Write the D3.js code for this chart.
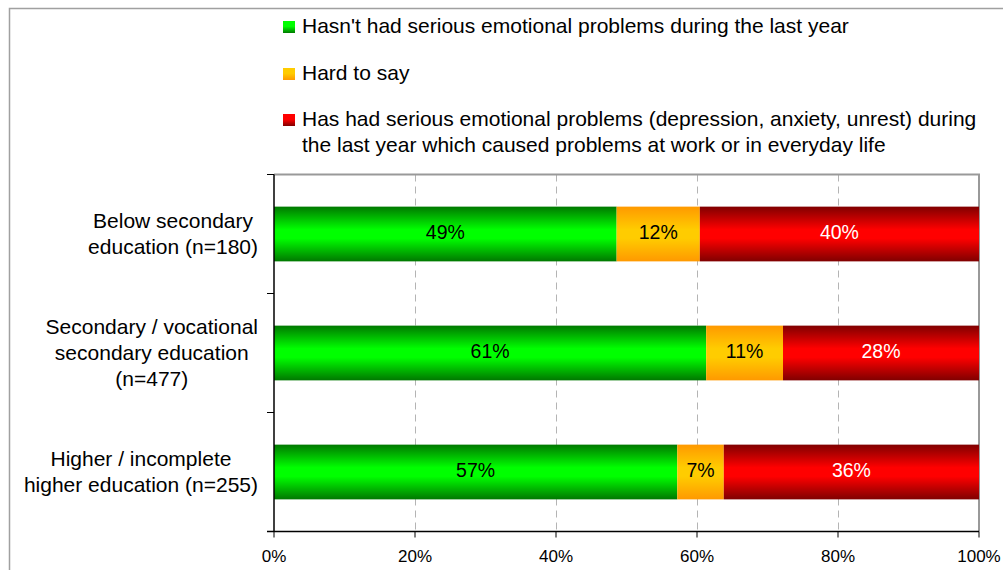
<!DOCTYPE html>
<html>
<head>
<meta charset="utf-8">
<script src="https://cdn.jsdelivr.net/npm/d3@7"></script>
<style>
  html, body { margin: 0; padding: 0; background: #fff; }
  svg { display: block; font-family: 'Liberation Sans', Arial, sans-serif; }
</style>
</head>
<body>
<svg id="chart" width="1003" height="570"></svg>
<script>
// ---- data ----
const categories = [
  ["Below secondary", "education (n=180)"],
  ["Secondary / vocational", "secondary education", "(n=477)"],
  ["Higher / incomplete", "higher education (n=255)"]
];
const seriesNames = [
  ["Hasn't had serious emotional problems during the last year"],
  ["Hard to say"],
  ["Has had serious emotional problems (depression, anxiety, unrest) during", "the last year which caused problems at work or in everyday life"]
];
const noProblems = [48.6, 61.3, 57.2];
const hardToSay  = [11.8, 10.9, 6.6];
const hadProblems = [39.6, 27.8, 36.2];
const xTicks = [0, 20, 40, 60, 80, 100];

// ---- styles ----
const colors = [
  { edge: "#007800", mid: "#00ff00", text: "#000" },
  { edge: "#ff9900", mid: "#ffcc00", text: "#000" },
  { edge: "#800000", mid: "#ff0000", text: "#fff" }
];

const svg = d3.select("#chart");
const plot = { left: 274, right: 979, top: 174.5, bottom: 531.5 };

const defs = svg.append("defs");
colors.forEach((c, i) => {
  const g = defs.append("linearGradient").attr("id", "bar" + i)
    .attr("x1", 0).attr("y1", 0).attr("x2", 0).attr("y2", 1);
  g.append("stop").attr("offset", "0%").attr("stop-color", c.edge);
  g.append("stop").attr("offset", "42%").attr("stop-color", c.mid);
  g.append("stop").attr("offset", "58%").attr("stop-color", c.mid);
  g.append("stop").attr("offset", "100%").attr("stop-color", c.edge);
  const l = defs.append("linearGradient").attr("id", "leg" + i)
    .attr("x1", 0).attr("y1", 0).attr("x2", 0).attr("y2", 1);
  l.append("stop").attr("offset", "0%").attr("stop-color", c.mid);
  l.append("stop").attr("offset", "45%").attr("stop-color", c.mid);
  l.append("stop").attr("offset", "100%").attr("stop-color", c.edge);
});

// outer chart frame
svg.append("rect").attr("x", 9.5).attr("y", 8.5).attr("width", 1200).attr("height", 800)
  .attr("fill", "#fff").attr("stroke", "#a0a0a0").attr("stroke-width", 1.5);

// scales
const x = d3.scaleLinear().domain([0, 100]).range([plot.left, plot.right]);
const yBand = d3.scaleBand().domain(d3.range(categories.length))
  .range([plot.top, plot.bottom]).paddingInner(0.54).paddingOuter(0.27);
const yOuter = d3.scaleBand().domain(d3.range(categories.length))
  .range([plot.top, plot.bottom]);

// gridlines
svg.append("g").selectAll("line").data(xTicks.slice(1, -1)).join("line")
  .attr("x1", d => Math.round(x(d)) + 0.5).attr("x2", d => Math.round(x(d)) + 0.5)
  .attr("y1", plot.top).attr("y2", plot.bottom)
  .attr("stroke", "#b4b4b4").attr("stroke-width", 1).attr("stroke-dasharray", "7,5");

// plot border (top & right)
svg.append("path")
  .attr("d", `M${plot.left},${plot.top}H${plot.right}V${plot.bottom}`)
  .attr("fill", "none").attr("stroke", "#999").attr("stroke-width", 2);

// stacked bars
const stackData = categories.map((c, i) => ({ i, v: [noProblems[i], hardToSay[i], hadProblems[i]] }));
const gBars = svg.append("g");
stackData.forEach(row => {
  let acc = 0;
  row.v.forEach((val, s) => {
    const x0 = x(acc), x1 = x(acc + val);
    acc += val;
    gBars.append("rect")
      .attr("x", x0).attr("y", yBand(row.i))
      .attr("width", x1 - x0).attr("height", yBand.bandwidth())
      .attr("fill", `url(#bar${s})`);
    gBars.append("text")
      .attr("x", (x0 + x1) / 2).attr("y", yBand(row.i) + yBand.bandwidth() / 2 + 5)
      .attr("text-anchor", "middle").attr("font-size", 19.5)
      .attr("fill", colors[s].text)
      .text(Math.round(val) + "%");
  });
});

// axes
const axisG = svg.append("g");
axisG.append("line").attr("x1", plot.left).attr("x2", plot.left)
  .attr("y1", plot.top).attr("y2", plot.bottom).attr("stroke", "#000").attr("stroke-width", 1.5);
const yTicks = d3.range(categories.length + 1).map(i => i < categories.length ? yOuter(i) : plot.bottom);
axisG.selectAll(".yt").data(yTicks).join("line")
  .attr("x1", plot.left - 7).attr("x2", plot.left)
  .attr("y1", d => d).attr("y2", d => d).attr("stroke", "#000").attr("stroke-width", 1);
axisG.append("line").attr("x1", plot.left - 7).attr("x2", plot.right)
  .attr("y1", plot.bottom).attr("y2", plot.bottom).attr("stroke", "#000").attr("stroke-width", 1.5);
axisG.selectAll(".xt").data(xTicks).join("line")
  .attr("x1", d => x(d)).attr("x2", d => x(d))
  .attr("y1", plot.bottom).attr("y2", plot.bottom + 6).attr("stroke", "#000").attr("stroke-width", 1);
axisG.selectAll(".xl").data(xTicks).join("text")
  .attr("x", d => x(d)).attr("y", 562)
  .attr("text-anchor", "middle").attr("font-size", 17).attr("fill", "#000")
  .text(d => d + "%");

// category labels: lines centered within a block right-aligned at x=258
const lineH = 26;
categories.forEach((lines, i) => {
  const cy = yOuter(i) + yOuter.bandwidth() / 2;
  const g = svg.append("g");
  const texts = lines.map((ln, k) => g.append("text")
    .attr("font-size", 21).attr("fill", "#000")
    .attr("y", cy + (k - (lines.length - 1) / 2) * lineH + 7)
    .text(ln));
  const maxW = d3.max(texts, t => t.node().getComputedTextLength());
  const centerX = 258 - maxW / 2;
  texts.forEach(t => t.attr("x", centerX).attr("text-anchor", "middle"));
});

// legend
const legendTop = [33, 80, 126];
seriesNames.forEach((lines, s) => {
  svg.append("rect").attr("x", 283).attr("y", legendTop[s] - 12)
    .attr("width", 12).attr("height", 12).attr("fill", `url(#leg${s})`);
  lines.forEach((ln, k) => {
    svg.append("text").attr("x", 302).attr("y", legendTop[s] + k * lineH)
      .attr("font-size", 21).attr("fill", "#000").text(ln);
  });
});
</script>
</body>
</html>
